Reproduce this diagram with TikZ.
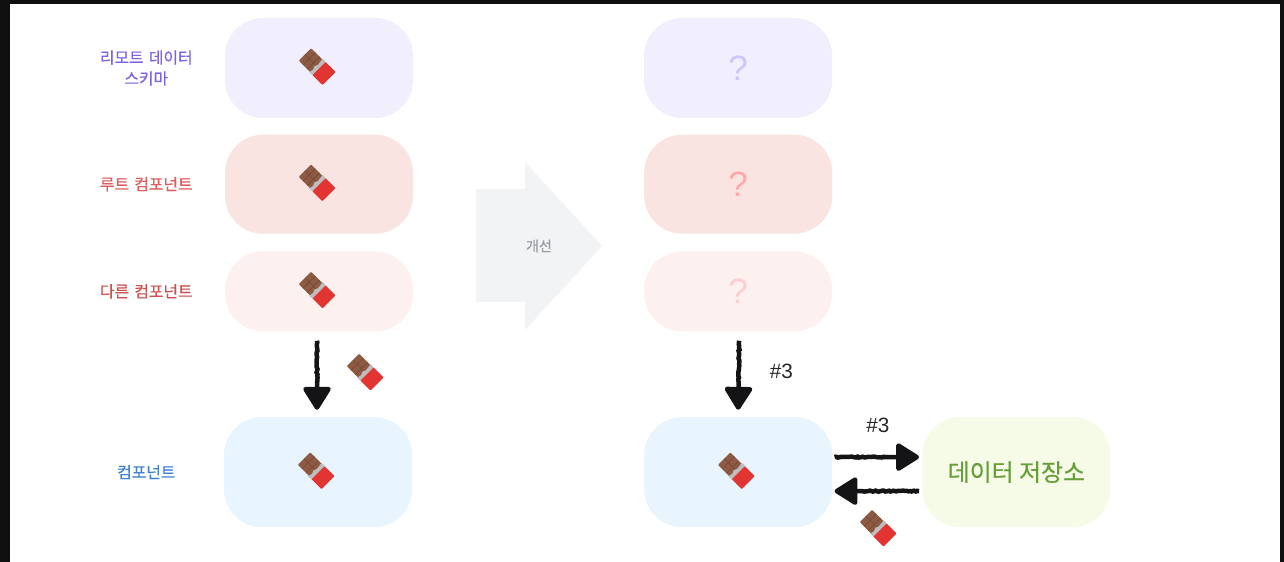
\documentclass[tikz,border=0pt]{standalone}
\usepackage{fontspec}
\setmainfont{Noto Sans CJK KR}
\newfontfamily\labelfont[FakeBold=0.5]{Noto Sans CJK KR}
\newfontfamily\markfont{Liberation Sans}
\usetikzlibrary{arrows.meta, positioning, decorations.pathmorphing}
\definecolor{framedark}{RGB}{15, 15, 15}
\definecolor{fillremote}{RGB}{241, 239, 253}
\definecolor{fillroot}{RGB}{250, 228, 226}
\definecolor{fillother}{RGB}{253, 241, 239}
\definecolor{fillcomp}{RGB}{232, 244, 254}
\definecolor{fillstore}{RGB}{245, 251, 230}
\definecolor{textremote}{RGB}{124, 100, 226}
\definecolor{textroot}{RGB}{222, 92, 92}
\definecolor{textother}{RGB}{206, 80, 80}
\definecolor{textcomp}{RGB}{64, 130, 210}
\definecolor{textstore}{RGB}{104, 158, 56}
\definecolor{markremote}{RGB}{208, 196, 255}
\definecolor{markroot}{RGB}{255, 168, 168}
\definecolor{markother}{RGB}{255, 205, 205}
\definecolor{fillarrow}{RGB}{241, 243, 245}
\definecolor{textarrow}{RGB}{150, 155, 160}
\definecolor{inkdark}{RGB}{20, 20, 22}
\definecolor{chocobrown}{RGB}{141, 90, 68}
\definecolor{chocoline}{RGB}{118, 72, 54}
\definecolor{chocofoil}{RGB}{190, 190, 190}
\definecolor{chocored}{RGB}{226, 52, 48}
\tikzset{
    stagebox/.style={rectangle, rounded corners=.76cm, minimum width=3.76cm, minimum height=2cm, align=center, inner sep=0pt},
    sidetext/.style={text width=2cm, align=center, inner sep=0pt, font=\labelfont\fontsize{9}{11.9}\selectfont},
    askmark/.style={font=\markfont\fontsize{20}{24}\selectfont},
    tagtext/.style={inner sep=0pt, text=black!85, font=\markfont\fontsize{11.8}{14}\selectfont},
    roughline/.style={-{Triangle[round, width=.6cm, length=.5cm]}, inkdark, line width=.09cm, decorate, decoration={random steps, segment length=1pt, amplitude=.3pt, post length=.55cm}},
    choco/.pic={
        \begin{scope}[shift={(-.04,.03)}, rotate=-45]
            \fill [chocobrown, rounded corners=.5pt] (-.34,-.175) rectangle (.03,.175);
            \draw [chocoline, line width=.35pt] (-.22,-.175) -- (-.22,.175) (-.1,-.175) -- (-.1,.175) (-.34,0) -- (0,0);
            \fill [chocofoil] (-.03,-.19) -- (-.01,-.1) -- (-.04,-.03) -- (-.01,.04) -- (-.03,.19) -- (.08,.19) -- (.08,-.19) -- cycle;
            \fill [chocored, rounded corners=.5pt] (.06,-.185) rectangle (.34,.185);
        \end{scope}
    }
}
\begin{document}
\begin{tikzpicture}
    \fill [framedark] (0,0) rectangle (25.68,-11.24);
    \fill [white] (.2,-.08) rectangle (25.6,-11.24);

    \node (remote1) [stagebox, fill=fillremote] at (6.38,-1.36) {};
    \node (root1) [stagebox, fill=fillroot, minimum height=1.98cm, below=.32cm of remote1] {};
    \node (other1) [stagebox, fill=fillother, minimum height=1.6cm, below=.34cm of root1] {};
    \node (comp1) [stagebox, fill=fillcomp, minimum height=2.2cm, below=1.7cm of other1, xshift=-.02cm] {};

    \node (remote2) [stagebox, fill=fillremote, right=4.61cm of remote1, text=markremote, askmark] {?};
    \node (root2) [stagebox, fill=fillroot, minimum height=1.98cm, right=4.61cm of root1, text=markroot, askmark] {?};
    \node (other2) [stagebox, fill=fillother, minimum height=1.6cm, right=4.61cm of other1, text=markother, askmark] {?};
    \node (comp2) [stagebox, fill=fillcomp, minimum height=2.2cm, right=4.63cm of comp1] {};
    \node (store) [stagebox, fill=fillstore, minimum height=2.2cm, right=1.79cm of comp2, text=textstore, font=\labelfont\fontsize{13.6}{16}\selectfont] {데이터 저장소};

    \node (remotetext) [sidetext, text=textremote, left=.56cm of remote1] {리모트 데이터\\스키마};
    \node (roottext) [sidetext, text=textroot, left=.56cm of root1] {루트 컴포넌트};
    \node (othertext) [sidetext, text=textother, left=.56cm of other1] {다른 컴포넌트};
    \node (comptext) [sidetext, text=textcomp, left=.54cm of comp1] {컴포넌트};

    \fill [fillarrow] (9.52,-3.78) -- (10.5,-3.78) -- (10.5,-3.24) -- (12.04,-4.92) -- (10.5,-6.6) -- (10.5,-6.04) -- (9.52,-6.04) -- cycle;
    \node (improve) [text=textarrow, inner sep=0pt, font=\labelfont\fontsize{8}{10}\selectfont] at (10.78,-4.92) {개선};

    \pic at (remote1) {choco};
    \pic at (root1) {choco};
    \pic at (other1) {choco};
    \pic at (comp1) {choco};
    \pic at (comp2) {choco};
    \pic at (7.34,-7.47) {choco};
    \pic at (17.6,-10.59) {choco};

    \draw [roughline] ([xshift=-.04cm, yshift=-.18cm]other1.south) -- ([xshift=-.02cm, yshift=.14cm]comp1.north);
    \draw [roughline] ([xshift=.02cm, yshift=-.18cm]other2.south) -- ([yshift=.14cm]comp2.north) node (tag1) [tagtext, midway, right=.58cm, yshift=.08cm] {\#3};
    \draw [roughline] ([xshift=.04cm, yshift=.3cm]comp2.east) -- ([xshift=-.06cm, yshift=.3cm]store.west) node (tag2) [tagtext, midway, above=.45cm, xshift=.02cm] {\#3};
    \draw [roughline] ([xshift=-.06cm, yshift=-.38cm]store.west) -- ([xshift=.04cm, yshift=-.38cm]comp2.east);
\end{tikzpicture}
\end{document}
